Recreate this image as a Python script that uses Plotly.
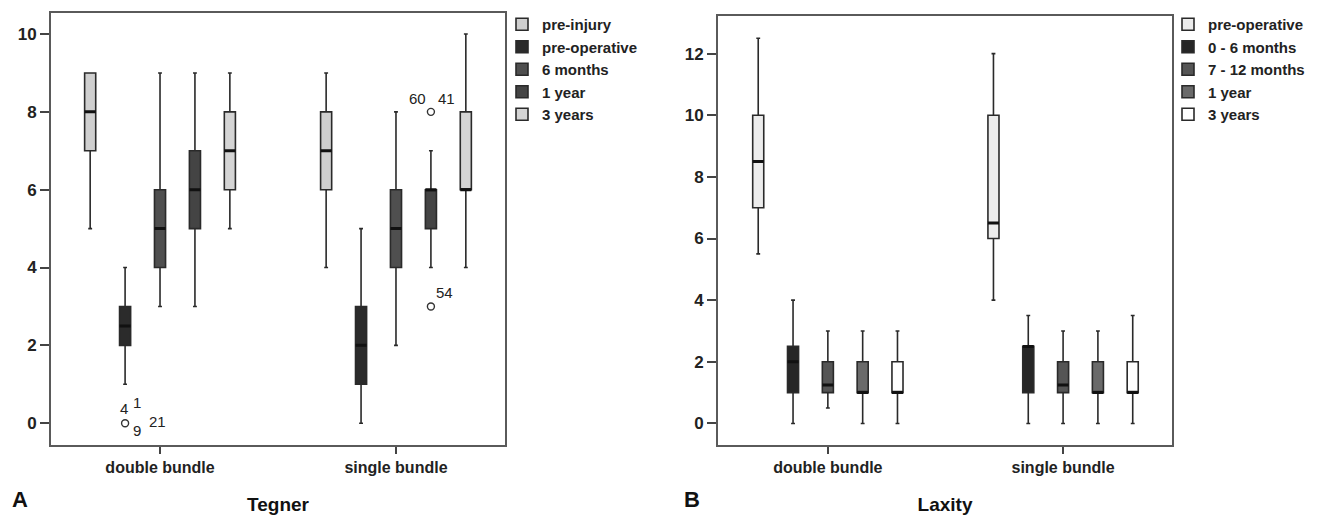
import plotly.graph_objects as go

# ---------------- data ----------------
groups = ["double bundle", "single bundle"]

# Panel A: Tegner
tegner_series = ["pre-injury", "pre-operative", "6 months", "1 year", "3 years"]
tegner_lower  = [[5, 4], [1, 0], [3, 2], [3, 4], [5, 4]]
tegner_q1     = [[7, 6], [2, 1], [4, 4], [5, 5], [6, 6]]
tegner_median = [[8, 7], [2.5, 2], [5, 5], [6, 6], [7, 6]]
tegner_q3     = [[9, 8], [3, 3], [6, 6], [7, 6], [8, 8]]
tegner_upper  = [[9, 9], [4, 5], [9, 8], [9, 7], [9, 10]]

tegner_outlier_group  = ["double bundle", "single bundle", "single bundle"]
tegner_outlier_series = ["pre-operative", "1 year", "1 year"]
tegner_outlier_value  = [0, 8, 3]
tegner_label_text     = ["4", "1", "9", "21", "60", "41", "54"]
tegner_label_outlier  = [0, 0, 0, 0, 1, 1, 2]

# Panel B: Laxity
laxity_series = ["pre-operative", "0 - 6 months", "7 - 12 months", "1 year", "3 years"]
laxity_lower  = [[5.5, 4], [0, 0], [0.5, 0], [0, 0], [0, 0]]
laxity_q1     = [[7, 6], [1, 1], [1, 1], [1, 1], [1, 1]]
laxity_median = [[8.5, 6.5], [2, 2.5], [1.25, 1.25], [1, 1], [1, 1]]
laxity_q3     = [[10, 10], [2.5, 2.5], [2, 2], [2, 2], [2, 2]]
laxity_upper  = [[12.5, 12], [4, 3.5], [3, 3], [3, 3], [3, 3.5]]

# ---------------- style ----------------
OFF = 8                      # page body margin
W, H = 1328 - OFF, 515 - OFF
FONT = "Liberation Sans, Arial, sans-serif"
tegner_colors = ["#cfcfcf", "#2b2b2b", "#4f4f4f", "#444444", "#d4d4d4"]
laxity_colors = ["#ececec", "#262626", "#555555", "#6a6a6a", "#ffffff"]
SLOT = 0.148      # spacing between boxes inside a group (data units)
BOXW = 0.047      # box width (data units)
label_shift = [(-1, 15), (12, 21), (12, -7), (32, 2), (-13, 13), (16, 13), (14, 14)]

fig = go.Figure()


def xpos(gi, si, n):
    return gi + (si - (n - 1) / 2) * SLOT


def add_panel(series, lower, q1, med, q3, upper, colors, xa, ya, legend):
    n = len(series)
    for si, name in enumerate(series):
        xs = [xpos(gi, si, n) for gi in range(len(groups))]
        fig.add_trace(go.Box(
            name=name, x=xs,
            lowerfence=lower[si], q1=q1[si], median=med[si], q3=q3[si], upperfence=upper[si],
            width=BOXW, whiskerwidth=0.35,
            fillcolor=colors[si],
            line=dict(color="#2a2a2a", width=1.6),
            xaxis=xa, yaxis=ya, legend=legend,
            boxpoints=False, hoverinfo="skip",
        ))
    # thick median bars drawn on top
    for si, name in enumerate(series):
        xs = [xpos(gi, si, n) for gi in range(len(groups))]
        fig.add_trace(go.Box(
            name=name + " median", x=xs,
            lowerfence=med[si], q1=med[si], median=med[si], q3=med[si], upperfence=med[si],
            width=BOXW, whiskerwidth=0,
            fillcolor="#111", line=dict(color="#111", width=3),
            xaxis=xa, yaxis=ya, showlegend=False,
            boxpoints=False, hoverinfo="skip",
        ))


add_panel(tegner_series, tegner_lower, tegner_q1, tegner_median, tegner_q3, tegner_upper,
          tegner_colors, "x", "y", "legend")
add_panel(laxity_series, laxity_lower, laxity_q1, laxity_median, laxity_q3, laxity_upper,
          laxity_colors, "x2", "y2", "legend2")

# outliers (panel A)
ox = [xpos(groups.index(g), tegner_series.index(s), len(tegner_series))
      for g, s in zip(tegner_outlier_group, tegner_outlier_series)]
fig.add_trace(go.Scatter(
    x=ox, y=tegner_outlier_value, mode="markers",
    marker=dict(symbol="circle-open", size=7, color="#333", line=dict(width=1.4)),
    showlegend=False, hoverinfo="skip", xaxis="x", yaxis="y",
))
for txt, oi, (dx, dy) in zip(tegner_label_text, tegner_label_outlier, label_shift):
    fig.add_annotation(x=ox[oi], y=tegner_outlier_value[oi], xref="x", yref="y",
                       text=txt, showarrow=False, xshift=dx, yshift=dy,
                       font=dict(family=FONT, size=15, color="#222222"))

axis_common = dict(showline=True, linecolor="#5a5a5a", linewidth=1.8, mirror=True,
                   ticks="outside", tickcolor="#444", tickwidth=1.5, showgrid=False,
                   zeroline=False)
xtick_font = dict(family=FONT, size=16, color="#222", weight="bold")
ytick_font = dict(family=FONT, size=17, color="#222", weight="bold")
title_font = dict(family=FONT, size=19, color="#111", weight="bold")
legend_font = dict(family=FONT, size=15, color="#222", weight="bold")


def px_x(a, b):
    return [(a - OFF) / W, (b - OFF) / W]


def px_y(top, bottom):
    return [1 - (bottom - OFF) / H, 1 - (top - OFF) / H]


fig.update_layout(
    width=W, height=H,
    margin=dict(l=0, r=0, t=0, b=0, autoexpand=False),
    paper_bgcolor="white", plot_bgcolor="white",
    showlegend=True,
    xaxis=dict(domain=px_x(51, 505), range=[-0.462, 1.462], tickvals=[0, 1], ticktext=groups,
               ticklen=7, anchor="y", tickfont=xtick_font,
               title=dict(text="Tegner", font=title_font, standoff=24), **axis_common),
    yaxis=dict(domain=px_y(13, 445), range=[-0.56, 10.54], dtick=2, ticklen=9, anchor="x",
               tickfont=ytick_font, **axis_common),
    xaxis2=dict(domain=px_x(718, 1172), range=[-0.467, 1.463], tickvals=[0, 1], ticktext=groups,
                ticklen=7, anchor="y2", tickfont=xtick_font,
                title=dict(text="Laxity", font=title_font, standoff=24), **axis_common),
    yaxis2=dict(domain=px_y(16, 445), range=[-0.70, 13.22], dtick=2, ticklen=9, anchor="x2",
                tickfont=ytick_font, **axis_common),
    legend=dict(x=(502 - OFF) / W, y=1, xanchor="left", yanchor="top",
                font=legend_font, bgcolor="rgba(0,0,0,0)",
                itemclick=False, itemdoubleclick=False),
    legend2=dict(x=(1168 - OFF) / W, y=1, xanchor="left", yanchor="top",
                 font=legend_font, bgcolor="rgba(0,0,0,0)",
                 itemclick=False, itemdoubleclick=False),
)

fig.add_annotation(x=(10 - OFF) / W, y=1 - (499 - OFF) / H, xref="paper", yref="paper",
                   text="<b>A</b>", showarrow=False, xanchor="left", yanchor="middle",
                   font=dict(family=FONT, size=22, color="#111"))
fig.add_annotation(x=(682 - OFF) / W, y=1 - (499 - OFF) / H, xref="paper", yref="paper",
                   text="<b>B</b>", showarrow=False, xanchor="left", yanchor="middle",
                   font=dict(family=FONT, size=22, color="#111"))

fig.write_html("out.html")
